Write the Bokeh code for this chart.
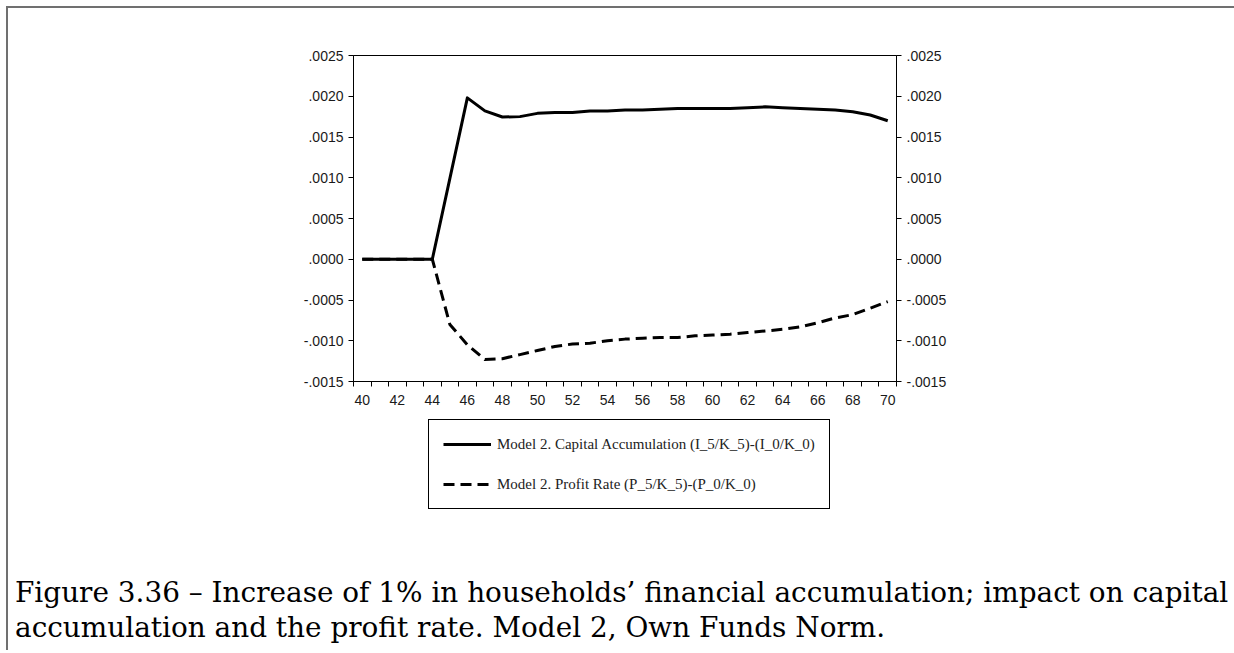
from bokeh.plotting import figure
from bokeh.models import (Range1d, LinearAxis, FixedTicker, CustomJSTickFormatter,
                          Legend, LegendItem, Div)
from bokeh.layouts import column
from bokeh.embed import file_html
from bokeh.resources import INLINE

# ---------------- data ----------------
years = list(range(40, 71))
capital_accumulation = [0.0, 0.0, 0.0, 0.0, 0.0,
                        0.00099, 0.00198, 0.00182, 0.001745, 0.00175,
                        0.00179, 0.00180, 0.00180, 0.00182, 0.00182,
                        0.00183, 0.00183, 0.00184, 0.00185, 0.00185,
                        0.00185, 0.00185, 0.00186, 0.00187, 0.00186,
                        0.00185, 0.00184, 0.00183, 0.00181, 0.00177,
                        0.00170]
profit_rate = [0.0, 0.0, 0.0, 0.0, 0.0,
               -0.00080, -0.00105, -0.00123, -0.00122, -0.00117,
               -0.00112, -0.00107, -0.00104, -0.00103, -0.00100,
               -0.00098, -0.00097, -0.00096, -0.00096, -0.00094,
               -0.00093, -0.00092, -0.00090, -0.00088, -0.00086,
               -0.00083, -0.00078, -0.00072, -0.00068, -0.00060,
               -0.00052]
x_label_ticks = list(range(40, 71, 2))
x_band_edges = [y + 0.5 for y in range(39, 71)]
y_ticks = [-0.0015, -0.0010, -0.0005, 0.0, 0.0005, 0.0010, 0.0015, 0.0020, 0.0025]
legend_labels = ["Model 2. Capital Accumulation (I_5/K_5)-(I_0/K_0)",
                 "Model 2. Profit Rate (P_5/K_5)-(P_0/K_0)"]
caption_lines = ["Figure 3.36 \u2013 Increase of 1% in households\u2019 financial accumulation; impact on capital",
                 "accumulation and the profit rate. Model 2, Own Funds Norm."]

SOLID = dict(line_color="black", line_width=3, line_join="round")
DASHED = dict(line_color="black", line_width=3, line_dash="11 6",
              line_cap="butt", line_join="round")

# ---------------- chart ----------------
p = figure(frame_width=543, frame_height=326, output_backend="svg", toolbar_location=None,
           x_range=Range1d(39.5, 70.5), y_range=Range1d(-0.0015, 0.0025),
           min_border_left=345, min_border_right=336, min_border_top=47,
           min_border_bottom=36)
p.xgrid.visible = False
p.ygrid.visible = False
p.outline_line_color = "black"
p.outline_line_width = 1
p.background_fill_color = "white"
p.border_fill_color = "white"

tick_font = "Liberation Sans"
tick_size = "14px"
tick_color = "#1a1a1a"

xa = p.xaxis[0]
xa.ticker = FixedTicker(ticks=x_label_ticks, minor_ticks=x_band_edges)
xa.major_tick_line_color = None
xa.major_tick_out = 5
xa.major_tick_in = 0
xa.minor_tick_out = 5
xa.minor_tick_in = 0
xa.minor_tick_line_color = "black"
xa.axis_line_color = "black"
xa.major_label_standoff = 8
xa.major_label_text_font = tick_font
xa.major_label_text_font_size = tick_size
xa.major_label_text_color = tick_color

yfmt = CustomJSTickFormatter(code="return tick.toFixed(4).replace('0.', '.');")

def style_y(ax):
    ax.ticker = FixedTicker(ticks=y_ticks, minor_ticks=[])
    ax.formatter = yfmt
    ax.major_tick_out = 5
    ax.major_tick_in = 0
    ax.major_tick_line_color = "black"
    ax.minor_tick_line_color = None
    ax.axis_line_color = "black"
    ax.major_label_standoff = 5
    ax.major_label_text_font = tick_font
    ax.major_label_text_font_size = tick_size
    ax.major_label_text_color = tick_color

style_y(p.yaxis[0])
ra = LinearAxis()
style_y(ra)
p.add_layout(ra, "right")

p.line(years, profit_rate, **DASHED)
p.line(years, capital_accumulation, **SOLID)

# ---------------- legend strip (below the chart, frame aligned with the chart) ----------------
lg = figure(width=1224, height=152, output_backend="svg", toolbar_location=None,
            x_range=Range1d(0, 1), y_range=Range1d(0, 1),
            x_axis_location=None, y_axis_location=None,
            min_border=0, outline_line_color=None)
lg.grid.visible = False
lg.background_fill_color = "white"
lg.border_fill_color = "white"
# legend keys: same series, hidden (only their line styles are shown in the legend)
key_cap = lg.line(years, capital_accumulation, visible=False, **SOLID)
key_profit = lg.line(years, profit_rate, visible=False, **DASHED)

legend = Legend(items=[LegendItem(label=legend_labels[0], renderers=[key_cap]),
                       LegendItem(label=legend_labels[1], renderers=[key_profit])],
                location=(75, 60), orientation="vertical",
                border_line_color="black", border_line_width=1.3,
                border_line_alpha=1.0,
                background_fill_color="white", background_fill_alpha=1.0,
                inactive_fill_alpha=0.0,
                label_text_font="Liberation Serif", label_text_font_size="15px",
                label_text_color="#222222",
                glyph_width=48, glyph_height=20, label_height=20,
                spacing=20, padding=14, label_standoff=6, margin=0)
lg.add_layout(legend, "center")

# ---------------- caption ----------------
caption = Div(text=caption_lines[0] + "<br>" + caption_lines[1], width=1224,
              styles={"font-family": "DejaVu Serif", "font-size": "27.9px",
                      "line-height": "35px", "color": "black",
                      "padding-left": "2px", "padding-top": "1px",
                      "white-space": "nowrap"})

page = column(p, lg, caption, spacing=0,
              styles={"border-left": "2px solid #707070",
                      "border-top": "2px solid #707070",
                      "margin-left": "6px", "margin-top": "6px"})

open("out.html", "w").write(file_html(page, INLINE))
